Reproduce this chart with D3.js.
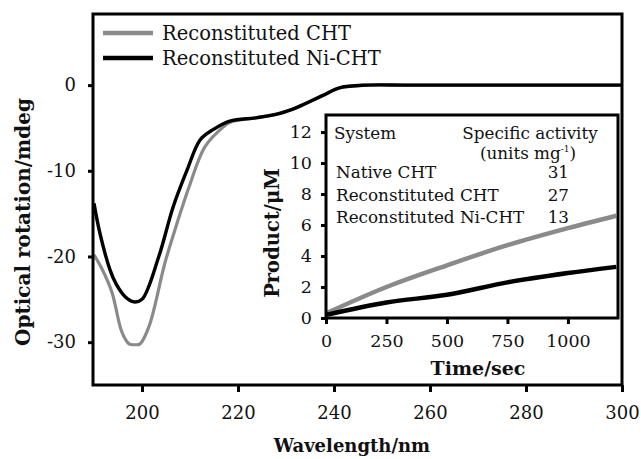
<!DOCTYPE html>
<html>
<head>
<meta charset="utf-8">
<script src="https://cdn.jsdelivr.net/npm/d3@7"></script>
<style>
  html, body { margin: 0; padding: 0; background: #fff; }
  svg { display: block; }
  text { font-family: "DejaVu Serif", "Liberation Serif", serif; fill: #111; }
</style>
</head>
<body>
<svg id="chart" width="641" height="459"></svg>
<script>
// CD spectra: wavelength (nm) vs optical rotation (mdeg)
const cdWavelengthCHT   = [190, 191.7, 193.75, 195.8, 197.3, 198.5, 199.6, 201.5, 204.8, 207.2, 209.8, 213.1, 216.9, 218.5, 224, 228.7, 232.3, 237.7, 241.3, 246.9, 255, 270, 300];
const cdRotationCHT     = [-19.8, -21.5, -24.2, -28.8, -30.2, -30.3, -30.2, -28.1, -20.7, -16.3, -11.9, -7.2, -4.9, -4.3, -3.8, -3.3, -2.6, -1.2, -0.3, 0, 0, 0, 0];
const cdWavelengthNiCHT = [190, 191.2, 193.3, 194.6, 196.5, 198.3, 200, 203.5, 206.5, 209.4, 212.1, 214.8, 218.3, 224, 228.7, 232.3, 237.7, 241.3, 246.9, 255, 270, 300];
const cdRotationNiCHT   = [-13.8, -17.2, -21.5, -23.2, -24.7, -25.3, -25.0, -20.0, -14.2, -9.9, -6.4, -5.2, -4.2, -3.8, -3.3, -2.6, -1.2, -0.3, 0, 0, 0, 0];

// Activity assay: time (s) vs product (µM)
const assayTime         = [0, 250, 500, 750, 1000, 1200];
const productCHT        = [0.3, 2.0, 3.4, 4.7, 5.8, 6.6];
const productNiCHT      = [0.2, 1.0, 1.5, 2.3, 2.9, 3.3];

// Tick values
const cdXTicks    = [200, 220, 240, 260, 280, 300];
const cdYTicks    = [0, -10, -20, -30];
const assayXTicks = [0, 250, 500, 750, 1000];
const assayYTicks = [0, 2, 4, 6, 8, 10, 12];

// Legend and activity table
const seriesNames   = ["Reconstituted CHT", "Reconstituted Ni-CHT"];
const seriesColors  = ["#8a8a8a", "#000000"];
const tableSystems  = ["Native CHT", "Reconstituted CHT", "Reconstituted Ni-CHT"];
const tableActivity = [31, 27, 13];

const svg = d3.select("#chart");
const plainNumber = d => String(d);   // hyphen minus, no thousands separator

// ---------- main CD panel ----------
const x = d3.scaleLinear().domain([190, 300]).range([94, 622]);
const y = d3.scaleLinear().domain([-35, 8.3]).range([385, 14]);

const line = (xs, ys, sx, sy, curve) => d3.line()
  .x((d, i) => sx(xs[i]))
  .y((d, i) => sy(ys[i]))
  .curve(curve || d3.curveCatmullRom.alpha(0.5))(xs);

// x axis
const xAxis = svg.append("g")
  .attr("transform", `translate(0,${y.range()[0]})`)
  .call(d3.axisBottom(x).tickValues(cdXTicks).tickFormat(plainNumber)
    .tickSize(7).tickPadding(14).tickSizeOuter(0));
xAxis.select(".domain").remove();
xAxis.selectAll(".tick line").attr("stroke", "#000").attr("stroke-width", 3);
xAxis.selectAll(".tick text").attr("font-size", 18).attr("fill", "#111");

// y axis
const yAxis = svg.append("g")
  .attr("transform", `translate(${x.range()[0]},0)`)
  .call(d3.axisLeft(y).tickValues(cdYTicks).tickFormat(plainNumber)
    .tickSize(6).tickPadding(12).tickSizeOuter(0));
yAxis.select(".domain").remove();
yAxis.selectAll(".tick line").attr("stroke", "#000").attr("stroke-width", 3);
yAxis.selectAll(".tick text").attr("font-size", 18).attr("fill", "#111");

// curves (grey first, black on top)
svg.append("path")
  .attr("d", line(cdWavelengthCHT, cdRotationCHT, x, y))
  .attr("fill", "none").attr("stroke", seriesColors[0]).attr("stroke-width", 3.2)
  .attr("stroke-linejoin", "round");
svg.append("path")
  .attr("d", line(cdWavelengthNiCHT, cdRotationNiCHT, x, y))
  .attr("fill", "none").attr("stroke", seriesColors[1]).attr("stroke-width", 3.4)
  .attr("stroke-linejoin", "round");

// frame
svg.append("rect")
  .attr("x", x.range()[0] - 1).attr("y", y.range()[1])
  .attr("width", x.range()[1] - x.range()[0] + 1).attr("height", y.range()[0] - y.range()[1])
  .attr("fill", "none").attr("stroke", "#000").attr("stroke-width", 3);

// axis titles
svg.append("text")
  .attr("x", 352).attr("y", 452)
  .attr("text-anchor", "middle").attr("font-weight", "bold").attr("font-size", 18)
  .text("Wavelength/nm");
svg.append("text")
  .attr("transform", "translate(30,222) rotate(-90)")
  .attr("text-anchor", "middle").attr("font-weight", "bold").attr("font-size", 20)
  .text("Optical rotation/mdeg");

// legend
const legend = svg.append("g");
seriesNames.forEach((name, i) => {
  const ly = 33 + i * 25;
  legend.append("line")
    .attr("x1", 103).attr("x2", 153).attr("y1", ly).attr("y2", ly)
    .attr("stroke", seriesColors[i]).attr("stroke-width", 4.5);
  legend.append("text")
    .attr("x", 162).attr("y", ly + 7)
    .attr("font-size", 19.5)
    .text(name);
});

// ---------- inset: activity assay ----------
const ix = d3.scaleLinear().domain([0, 1207]).range([326, 618]);
const iy = d3.scaleLinear().domain([0, 13.1]).range([318, 115]);

svg.append("rect")
  .attr("x", ix.range()[0]).attr("y", iy.range()[1])
  .attr("width", ix.range()[1] - ix.range()[0]).attr("height", iy.range()[0] - iy.range()[1])
  .attr("fill", "#fff");

const ixAxis = svg.append("g")
  .attr("transform", `translate(0,${iy.range()[0]})`)
  .call(d3.axisBottom(ix).tickValues(assayXTicks).tickFormat(plainNumber)
    .tickSize(6).tickPadding(11).tickSizeOuter(0));
ixAxis.select(".domain").remove();
ixAxis.selectAll(".tick line").attr("stroke", "#000").attr("stroke-width", 3);
ixAxis.selectAll(".tick text").attr("font-size", 17.5).attr("fill", "#111");

const iyAxis = svg.append("g")
  .attr("transform", `translate(${ix.range()[0]},0)`)
  .call(d3.axisLeft(iy).tickValues(assayYTicks).tickFormat(plainNumber)
    .tickSize(5).tickPadding(9).tickSizeOuter(0));
iyAxis.select(".domain").remove();
iyAxis.selectAll(".tick line").attr("stroke", "#000").attr("stroke-width", 3);
iyAxis.selectAll(".tick text").attr("font-size", 17.5).attr("fill", "#111");

svg.append("path")
  .attr("d", line(assayTime, productCHT, ix, iy))
  .attr("fill", "none").attr("stroke", seriesColors[0]).attr("stroke-width", 4.5);
svg.append("path")
  .attr("d", line(assayTime, productNiCHT, ix, iy))
  .attr("fill", "none").attr("stroke", seriesColors[1]).attr("stroke-width", 4.5);

svg.append("rect")
  .attr("x", ix.range()[0]).attr("y", iy.range()[1])
  .attr("width", ix.range()[1] - ix.range()[0]).attr("height", iy.range()[0] - iy.range()[1])
  .attr("fill", "none").attr("stroke", "#000").attr("stroke-width", 3);

svg.append("text")
  .attr("x", 478).attr("y", 375)
  .attr("text-anchor", "middle").attr("font-weight", "bold").attr("font-size", 19)
  .text("Time/sec");
svg.append("text")
  .attr("transform", "translate(279,233) rotate(-90)")
  .attr("text-anchor", "middle").attr("font-weight", "bold").attr("font-size", 19.5)
  .text("Product/\u03bcM");

// activity table
const table = svg.append("g").attr("font-size", 16.8);
table.append("text").attr("x", 334).attr("y", 139).text("System");
table.append("text").attr("x", 530).attr("y", 139).attr("text-anchor", "middle").text("Specific activity");
const unitText = table.append("text").attr("x", 528).attr("y", 159).attr("text-anchor", "middle");
unitText.append("tspan").text("(units mg");
unitText.append("tspan").attr("dy", -7).attr("font-size", 9).text("-1");
unitText.append("tspan").attr("dy", 7).text(")");
tableSystems.forEach((s, i) => {
  const ty = 178 + i * 22.5;
  table.append("text").attr("x", 336).attr("y", ty).text(s);
  table.append("text").attr("x", 569).attr("y", ty).attr("text-anchor", "end").text(tableActivity[i]);
});
</script>
</body>
</html>
